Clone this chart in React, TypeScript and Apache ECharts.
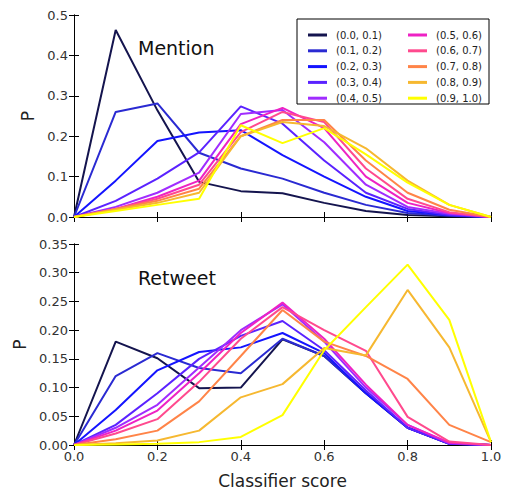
import React, { useEffect, useRef } from "react";
import * as echarts from "echarts";

const xs = [0, 0.1, 0.2, 0.3, 0.4, 0.5, 0.6, 0.7, 0.8, 0.9, 1.0];
const names = [
  "(0.0, 0.1)", "(0.1, 0.2)", "(0.2, 0.3)", "(0.3, 0.4)", "(0.4, 0.5)",
  "(0.5, 0.6)", "(0.6, 0.7)", "(0.7, 0.8)", "(0.8, 0.9)", "(0.9, 1.0)",
];
const colors = [
  "#14144e", "#2a2ad2", "#1414ff", "#5a22ff", "#a02cff",
  "#ee22c4", "#ff4a8e", "#ff8448", "#f6b830", "#ffff00",
];

const mention: number[][] = [
  [0, 0.463, 0.264, 0.087, 0.064, 0.059, 0.035, 0.015, 0.005, 0.002, 0],
  [0, 0.26, 0.281, 0.159, 0.12, 0.095, 0.06, 0.03, 0.01, 0.003, 0],
  [0, 0.09, 0.188, 0.209, 0.215, 0.153, 0.1, 0.05, 0.015, 0.005, 0],
  [0, 0.04, 0.095, 0.16, 0.274, 0.231, 0.14, 0.06, 0.02, 0.005, 0],
  [0, 0.025, 0.06, 0.11, 0.255, 0.265, 0.185, 0.08, 0.025, 0.008, 0],
  [0, 0.02, 0.05, 0.09, 0.23, 0.27, 0.22, 0.1, 0.035, 0.01, 0],
  [0, 0.02, 0.045, 0.08, 0.21, 0.26, 0.235, 0.12, 0.045, 0.012, 0],
  [0, 0.02, 0.04, 0.07, 0.2, 0.24, 0.24, 0.14, 0.06, 0.018, 0],
  [0, 0.018, 0.035, 0.06, 0.2, 0.235, 0.225, 0.17, 0.09, 0.03, 0],
  [0, 0.015, 0.03, 0.045, 0.227, 0.183, 0.22, 0.155, 0.085, 0.03, 0],
];

const retweet: number[][] = [
  [0, 0.18, 0.151, 0.099, 0.1, 0.184, 0.155, 0.09, 0.03, 0.002, 0],
  [0, 0.12, 0.16, 0.134, 0.125, 0.185, 0.155, 0.09, 0.03, 0.003, 0],
  [0, 0.061, 0.13, 0.162, 0.17, 0.195, 0.16, 0.09, 0.03, 0.002, 0],
  [0, 0.035, 0.09, 0.15, 0.19, 0.216, 0.165, 0.095, 0.03, 0.002, 0],
  [0, 0.03, 0.07, 0.135, 0.2, 0.245, 0.18, 0.1, 0.035, 0.003, 0],
  [0, 0.025, 0.06, 0.125, 0.195, 0.248, 0.185, 0.105, 0.035, 0.004, 0],
  [0, 0.02, 0.045, 0.11, 0.185, 0.24, 0.2, 0.164, 0.049, 0.006, 0],
  [0, 0.01, 0.025, 0.076, 0.155, 0.235, 0.18, 0.155, 0.115, 0.035, 0.005],
  [0, 0.003, 0.008, 0.025, 0.083, 0.106, 0.169, 0.156, 0.27, 0.17, 0.005],
  [0, 0.001, 0.002, 0.005, 0.014, 0.052, 0.165, 0.24, 0.314, 0.218, 0.005],
];

const xTicks = [0, 0.2, 0.4, 0.6, 0.8, 1.0];
const topYTicks = [0, 0.1, 0.2, 0.3, 0.4, 0.5];
const bottomYTicks = [0, 0.05, 0.1, 0.15, 0.2, 0.25, 0.3, 0.35];

const FONT = "DejaVu Sans";

export default function App() {
  const ref = useRef<HTMLDivElement>(null);
  useEffect(() => {
    if (!ref.current) return;
    const chart = echarts.init(ref.current, undefined, { renderer: "svg" });
    const lineStyle = { color: "#000", width: 1 };
    const tick = { show: true, inside: true, length: 5, lineStyle: { color: "#000" } };
    const labelStyle = { color: "#333", fontFamily: FONT, fontSize: 13 };
    const xMain = (gridIndex: number, showLabels: boolean, name?: string) => ({
      type: "value",
      gridIndex,
      min: xTicks[0],
      max: xTicks[xTicks.length - 1],
      interval: 0.2,
      axisLine: { show: true, lineStyle },
      axisTick: tick,
      splitLine: { show: false },
      axisLabel: {
        show: showLabels,
        margin: 5,
        ...labelStyle,
        formatter: (v: number) => v.toFixed(1),
      },
      name: name,
      nameLocation: "middle",
      nameGap: 27,
      nameTextStyle: { fontFamily: FONT, fontSize: 17, color: "#222" },
    });
    const xTop = (gridIndex: number) => ({
      type: "value",
      gridIndex,
      position: "top",
      min: xTicks[0],
      max: xTicks[xTicks.length - 1],
      interval: 0.2,
      axisLine: { show: true, lineStyle },
      axisTick: tick,
      splitLine: { show: false },
      axisLabel: { show: false },
    });
    const yMain = (gridIndex: number, ticks: number[], dec: number, gap: number) => ({
      type: "value",
      gridIndex,
      min: ticks[0],
      max: ticks[ticks.length - 1],
      interval: ticks[1] - ticks[0],
      axisLine: { show: true, lineStyle },
      axisTick: tick,
      splitLine: { show: false },
      axisLabel: { margin: 6, ...labelStyle, formatter: (v: number) => v.toFixed(dec) },
      name: "P",
      nameLocation: "middle",
      nameRotate: 90,
      nameGap: gap,
      nameTextStyle: { fontFamily: FONT, fontSize: 17, color: "#222" },
    });
    const yRight = (gridIndex: number, ticks: number[]) => ({
      type: "value",
      gridIndex,
      position: "right",
      min: ticks[0],
      max: ticks[ticks.length - 1],
      interval: ticks[1] - ticks[0],
      axisLine: { show: true, lineStyle },
      axisTick: tick,
      splitLine: { show: false },
      axisLabel: { show: false },
    });

    const mkSeries = (data: number[][], xi: number, yi: number) =>
      data.map((vals, i) => ({
        type: "line",
        name: names[i],
        xAxisIndex: xi,
        yAxisIndex: yi,
        data: xs.map((x, k) => [x, vals[k]]),
        symbol: "none",
        lineStyle: { color: colors[i], width: 2 },
        itemStyle: { color: colors[i] },
        emphasis: { disabled: true },
      }));

    const legendCommon = {
      orient: "vertical",
      icon: "rect",
      itemWidth: 19,
      itemHeight: 3,
      itemGap: 3.8,
      textStyle: { fontFamily: FONT, fontSize: 10, color: "#222", lineHeight: 12, padding: [0, 0, 0, 4] },
      selectedMode: false,
    };

    chart.setOption({
      animation: false,
      backgroundColor: "#fff",
      grid: [
        { left: 74, top: 15, width: 417, height: 202 },
        { left: 74, top: 244, width: 417, height: 201 },
      ],
      xAxis: [xMain(0, false), xTop(0), xMain(1, true, "Classifier score"), xTop(1)],
      yAxis: [
        yMain(0, topYTicks, 1, 37),
        yRight(0, topYTicks),
        yMain(1, bottomYTicks, 2, 44),
        yRight(1, bottomYTicks),
      ],
      legend: [
        { ...legendCommon, left: 303, top: 24, data: names.slice(0, 5) },
        { ...legendCommon, left: 403, top: 24, data: names.slice(5) },
      ],
      graphic: [
        {
          type: "rect",
          shape: { x: 297, y: 19, width: 192, height: 85 },
          style: { fill: "none", stroke: "#000", lineWidth: 1 },
          z: 100,
        },
        {
          type: "text",
          x: 138,
          y: 48,
          style: { text: "Mention", font: `19px '${FONT}'`, fill: "#111", textVerticalAlign: "middle" },
        },
        {
          type: "text",
          x: 138,
          y: 278,
          style: { text: "Retweet", font: `19px '${FONT}'`, fill: "#111", textVerticalAlign: "middle" },
        },
      ],
      series: [...mkSeries(mention, 0, 0), ...mkSeries(retweet, 2, 2)],
    });
    return () => chart.dispose();
  }, []);
  return <div ref={ref} style={{ width: 505, height: 493, position: "absolute", left: 0, top: 0 }} />;
}
